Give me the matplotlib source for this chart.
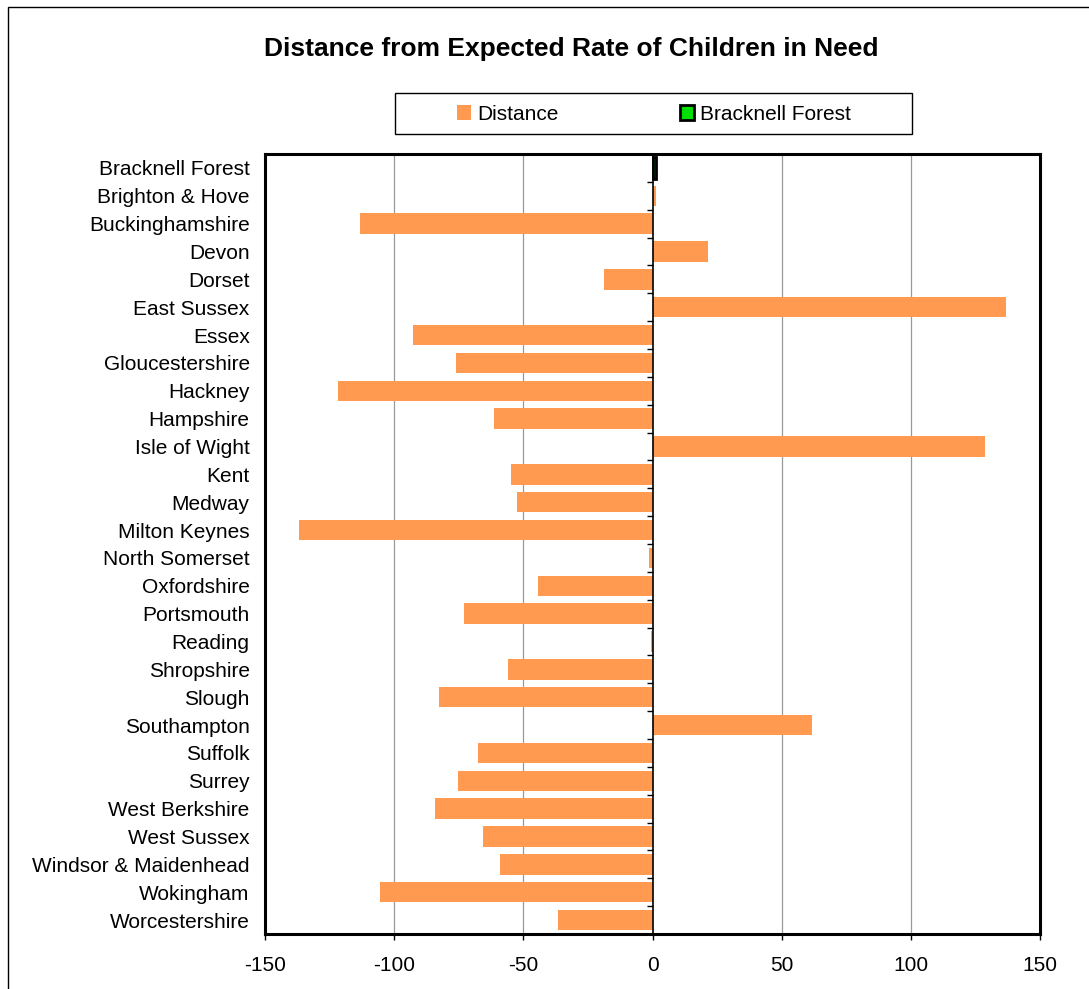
import matplotlib
matplotlib.use("Agg")

import matplotlib.pyplot as plt
from matplotlib.patches import Rectangle, Patch
import numpy as np

plt.rcParams["font.family"] = ["Liberation Sans", "DejaVu Sans"]

areas = ["Bracknell Forest", "Brighton & Hove", "Buckinghamshire", "Devon", "Dorset",
         "East Sussex", "Essex", "Gloucestershire", "Hackney", "Hampshire",
         "Isle of Wight", "Kent", "Medway", "Milton Keynes", "North Somerset",
         "Oxfordshire", "Portsmouth", "Reading", "Shropshire", "Slough",
         "Southampton", "Suffolk", "Surrey", "West Berkshire", "West Sussex",
         "Windsor & Maidenhead", "Wokingham", "Worcestershire"]
distance = [1.5, 1.5, -113.3, 21.3, -18.9,
            136.8, -92.8, -76.2, -121.8, -61.5,
            128.7, -54.9, -52.6, -136.8, -1.5,
            -44.5, -73.1, -0.4, -56.0, -82.7,
            61.8, -67.6, -75.4, -84.3, -65.7,
            -59.1, -105.5, -36.7]
bracknell = 1.5
xticks = [-150, -100, -50, 0, 50, 100, 150]

W, H = 1089, 989
fig = plt.figure(figsize=(W / 100, H / 100), dpi=100)
ax = fig.add_axes([265 / W, 1 - 934 / H, 775 / W, 780 / H])

y = np.arange(len(areas))
ax.barh(y, distance, height=0.73, color="#FF9A50", zorder=2)
ax.barh(0, bracknell, height=0.78, color="#00E000", edgecolor="black", linewidth=2, zorder=3)

ax.set_xlim(-150, 150)
ax.set_ylim(len(areas) - 0.5, -0.5)
ax.set_xticks(xticks)
ax.set_xticklabels([str(v) for v in xticks], fontsize=15)
ax.set_yticks(y)
ax.set_yticklabels(areas, fontsize=15)
ax.tick_params(axis="y", length=0, pad=11)
ax.tick_params(axis="x", direction="out", length=4.5, width=1, pad=11)

for v in xticks[1:-1]:
    if v != 0:
        ax.axvline(v, color="#999999", linewidth=0.9, zorder=1)
ax.axvline(0, color="black", linewidth=1.2, zorder=4)
ax.hlines(np.arange(len(areas) + 1) - 0.5, -2.3, 0, color="black", linewidth=1, zorder=4)

for s in ax.spines.values():
    s.set_linewidth(2.2)
    s.set_color("black")

fig.text(571 / W, 1 - 49 / H, "Distance from Expected Rate of Children in Need",
         ha="center", va="center", fontsize=19, fontweight="bold")

handles = [Patch(facecolor="#FF9A50", edgecolor="none", label="Distance"),
           Patch(facecolor="#00E000", edgecolor="black", linewidth=2, label="Bracknell Forest")]
leg = fig.legend(handles=handles, ncol=2, loc="center",
                 bbox_to_anchor=(654 / W, 1 - 114 / H), fontsize=15,
                 frameon=False, columnspacing=5.8,
                 handlelength=0.7, handleheight=0.7, handletextpad=0.3,
                 borderpad=0, borderaxespad=0)

fig.patches.append(Rectangle((395 / W, 1 - 134 / H), 517 / W, 41 / H,
                             transform=fig.transFigure, fill=False,
                             edgecolor="black", linewidth=1))
fig.patches.append(Rectangle((8 / W, -0.01), 1.0, 1 - 7 / H + 0.01,
                             transform=fig.transFigure, fill=False,
                             edgecolor="black", linewidth=1))

fig.savefig("out.png", dpi=100)
